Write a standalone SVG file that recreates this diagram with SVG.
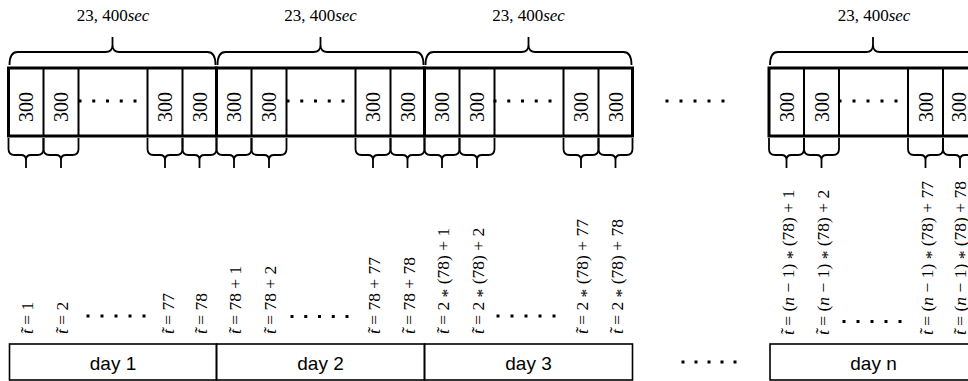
<svg xmlns="http://www.w3.org/2000/svg" xmlns:xlink="http://www.w3.org/1999/xlink" width="968" height="381" viewBox="0 0 968 381">
<style>
.blk{fill:none;stroke:#000;stroke-width:3}
.div{stroke:#000;stroke-width:2}
.br{fill:none;stroke:#000;stroke-width:1.8}
.cell{font-family:"Liberation Serif","Times New Roman",serif;font-size:20px;text-anchor:middle;fill:#000}
.sec{font-family:"Liberation Serif","Times New Roman",serif;font-size:17px;text-anchor:middle;fill:#000}
.lab{font-family:"Liberation Serif","Times New Roman",serif;font-size:17.5px;fill:#000}
.it{font-style:italic}
.ast{baseline-shift:-0.22em}
.day{fill:none;stroke:#000;stroke-width:1.6}
.dayt{font-family:"Liberation Sans",Arial,sans-serif;font-size:19px;text-anchor:middle;fill:#000}
</style>
<defs>
<rect id="dot" x="-1.5" y="-1.5" width="3" height="3" fill="#000"/>
<path id="b35" d="M0 0 V11 C0 15 2 17 6 17 H12.5 C15.5 17 17.5 19 17.5 22 V30 M17.5 22 C17.5 19 19.5 17 22.5 17 H29 C33 17 35 15 35 11 V0"/>
<path id="b34" d="M0 0 V11 C0 15 2 17 6 17 H12 C15 17 17 19 17 22 V30 M17 22 C17 19 19 17 22 17 H28 C32 17 34 15 34 11 V0"/>
</defs>
<rect width="968" height="381" fill="#fff"/>

<!-- blocks -->
<g id="block1">
<rect class="blk" x="8.5" y="68" width="208" height="68"/>
<path class="div" d="M43.5 68V136M78.5 68V136M147.5 68V136M182.5 68V136"/>
<text class="cell" transform="translate(33,107) rotate(-90)">300</text>
<text class="cell" transform="translate(68,107) rotate(-90)">300</text>
<text class="cell" transform="translate(172,107) rotate(-90)">300</text>
<text class="cell" transform="translate(207,107) rotate(-90)">300</text>
<use xlink:href="#dot" x="80" y="101"/><use xlink:href="#dot" x="93.75" y="101"/><use xlink:href="#dot" x="107.5" y="101"/><use xlink:href="#dot" x="121.25" y="101"/><use xlink:href="#dot" x="135" y="101"/>
</g>
<g id="block2">
<rect class="blk" x="216.5" y="68" width="208" height="68"/>
<path class="div" d="M251.5 68V136M286.5 68V136M355.5 68V136M390.5 68V136"/>
<text class="cell" transform="translate(241,107) rotate(-90)">300</text>
<text class="cell" transform="translate(276,107) rotate(-90)">300</text>
<text class="cell" transform="translate(380,107) rotate(-90)">300</text>
<text class="cell" transform="translate(414.5,107) rotate(-90)">300</text>
<use xlink:href="#dot" x="288" y="101"/><use xlink:href="#dot" x="301.75" y="101"/><use xlink:href="#dot" x="315.5" y="101"/><use xlink:href="#dot" x="329.25" y="101"/><use xlink:href="#dot" x="343" y="101"/>
</g>
<g id="block3">
<rect class="blk" x="424.5" y="68" width="208" height="68"/>
<path class="div" d="M459.5 68V136M494.5 68V136M563.5 68V136M598.5 68V136"/>
<text class="cell" transform="translate(449,107) rotate(-90)">300</text>
<text class="cell" transform="translate(484,107) rotate(-90)">300</text>
<text class="cell" transform="translate(588,107) rotate(-90)">300</text>
<text class="cell" transform="translate(622.5,107) rotate(-90)">300</text>
<use xlink:href="#dot" x="495" y="101"/><use xlink:href="#dot" x="508.75" y="101"/><use xlink:href="#dot" x="522.5" y="101"/><use xlink:href="#dot" x="536.25" y="101"/><use xlink:href="#dot" x="550" y="101"/>
</g>
<g id="gapTop">
<use xlink:href="#dot" x="667" y="101"/><use xlink:href="#dot" x="681" y="101"/><use xlink:href="#dot" x="695" y="101"/><use xlink:href="#dot" x="709" y="101"/><use xlink:href="#dot" x="723" y="101"/>
</g>
<g id="block4">
<rect class="blk" x="769" y="68" width="208" height="68"/>
<path class="div" d="M804 68V136M839 68V136M908 68V136M943 68V136"/>
<text class="cell" transform="translate(793.5,107) rotate(-90)">300</text>
<text class="cell" transform="translate(828.5,107) rotate(-90)">300</text>
<text class="cell" transform="translate(932.5,107) rotate(-90)">300</text>
<text class="cell" transform="translate(966,107) rotate(-90)">300</text>
<use xlink:href="#dot" x="840" y="101"/><use xlink:href="#dot" x="854" y="101"/><use xlink:href="#dot" x="868" y="101"/><use xlink:href="#dot" x="882" y="101"/><use xlink:href="#dot" x="896" y="101"/>
</g>

<!-- top labels -->
<g id="secLabels">
<text class="sec" x="113" y="21">23, 400<tspan class="it">sec</tspan></text>
<text class="sec" x="320.5" y="21">23, 400<tspan class="it">sec</tspan></text>
<text class="sec" x="528.5" y="21">23, 400<tspan class="it">sec</tspan></text>
<text class="sec" x="874" y="21">23, 400<tspan class="it">sec</tspan></text>
</g>

<!-- connectors: braces -->
<g id="connectors">
<path class="br" d="M9.5 65 C9.5 57 11.5 52 17.5 52 H105.5 C109.5 52 112.5 50 112.5 45 V37 M112.5 45 C112.5 50 115.5 52 119.5 52 H207.5 C213.5 52 215.5 57 215.5 65"/>
<path class="br" d="M217.5 65 C217.5 57 219.5 52 225.5 52 H313.5 C317.5 52 320.5 50 320.5 45 V37 M320.5 45 C320.5 50 323.5 52 327.5 52 H415.5 C421.5 52 423.5 57 423.5 65"/>
<path class="br" d="M425.5 65 C425.5 57 427.5 52 433.5 52 H521.5 C525.5 52 528.5 50 528.5 45 V37 M528.5 45 C528.5 50 531.5 52 535.5 52 H623.5 C629.5 52 631.5 57 631.5 65"/>
<path class="br" d="M770 65 C770 57 772 52 778 52 H866 C870 52 873 50 873 45 V37 M873 45 C873 50 876 52 880 52 H968 C974 52 976 57 976 65"/>
<use class="br" xlink:href="#b35" x="8.5" y="138"/>
<use class="br" xlink:href="#b35" x="43.5" y="138"/>
<use class="br" xlink:href="#b35" x="147.5" y="138"/>
<use class="br" xlink:href="#b34" x="182.5" y="138"/>
<use class="br" xlink:href="#b35" x="216.5" y="138"/>
<use class="br" xlink:href="#b35" x="251.5" y="138"/>
<use class="br" xlink:href="#b35" x="355.5" y="138"/>
<use class="br" xlink:href="#b34" x="390.5" y="138"/>
<use class="br" xlink:href="#b35" x="424.5" y="138"/>
<use class="br" xlink:href="#b35" x="459.5" y="138"/>
<use class="br" xlink:href="#b35" x="563.5" y="138"/>
<use class="br" xlink:href="#b34" x="598.5" y="138"/>
<use class="br" xlink:href="#b35" x="769" y="138"/>
<use class="br" xlink:href="#b35" x="804" y="138"/>
<use class="br" xlink:href="#b35" x="908" y="138"/>
<use class="br" xlink:href="#b34" x="943" y="138"/>
</g>

<!-- time labels -->
<g id="labels1">
<text class="lab" transform="translate(33,334) rotate(-90)"><tspan class="it">t̃</tspan> = 1</text>
<text class="lab" transform="translate(68,334) rotate(-90)"><tspan class="it">t̃</tspan> = 2</text>
<text class="lab" transform="translate(174,334) rotate(-90)"><tspan class="it">t̃</tspan> = 77</text>
<text class="lab" transform="translate(207,334) rotate(-90)"><tspan class="it">t̃</tspan> = 78</text>
<use xlink:href="#dot" x="88" y="316"/><use xlink:href="#dot" x="102" y="316"/><use xlink:href="#dot" x="116" y="316"/><use xlink:href="#dot" x="130" y="316"/><use xlink:href="#dot" x="144" y="316"/>
</g>
<g id="labels2">
<text class="lab" transform="translate(241,334) rotate(-90)"><tspan class="it">t̃</tspan> = 78 + 1</text>
<text class="lab" transform="translate(276,334) rotate(-90)"><tspan class="it">t̃</tspan> = 78 + 2</text>
<text class="lab" transform="translate(380,334) rotate(-90)"><tspan class="it">t̃</tspan> = 78 + 77</text>
<text class="lab" transform="translate(414.5,334) rotate(-90)"><tspan class="it">t̃</tspan> = 78 + 78</text>
<use xlink:href="#dot" x="292" y="316.5"/><use xlink:href="#dot" x="305.75" y="316.5"/><use xlink:href="#dot" x="319.5" y="316.5"/><use xlink:href="#dot" x="333.25" y="316.5"/><use xlink:href="#dot" x="347" y="316.5"/>
</g>
<g id="labels3">
<text class="lab" transform="translate(449,334) rotate(-90)"><tspan class="it">t̃</tspan> = 2 <tspan class="ast">*</tspan> (78) + 1</text>
<text class="lab" transform="translate(484,334) rotate(-90)"><tspan class="it">t̃</tspan> = 2 <tspan class="ast">*</tspan> (78) + 2</text>
<text class="lab" transform="translate(588,334) rotate(-90)"><tspan class="it">t̃</tspan> = 2 <tspan class="ast">*</tspan> (78) + 77</text>
<text class="lab" transform="translate(622.5,334) rotate(-90)"><tspan class="it">t̃</tspan> = 2 <tspan class="ast">*</tspan> (78) + 78</text>
<use xlink:href="#dot" x="498" y="316"/><use xlink:href="#dot" x="512" y="316"/><use xlink:href="#dot" x="526" y="316"/><use xlink:href="#dot" x="540" y="316"/><use xlink:href="#dot" x="554" y="316"/>
</g>
<g id="labels4">
<text class="lab" transform="translate(793.5,335) rotate(-90)"><tspan class="it">t̃</tspan> = (<tspan class="it">n</tspan> − 1) <tspan class="ast">*</tspan> (78) + 1</text>
<text class="lab" transform="translate(828.5,335) rotate(-90)"><tspan class="it">t̃</tspan> = (<tspan class="it">n</tspan> − 1) <tspan class="ast">*</tspan> (78) + 2</text>
<text class="lab" transform="translate(932.5,335) rotate(-90)"><tspan class="it">t̃</tspan> = (<tspan class="it">n</tspan> − 1) <tspan class="ast">*</tspan> (78) + 77</text>
<text class="lab" transform="translate(966,335) rotate(-90)"><tspan class="it">t̃</tspan> = (<tspan class="it">n</tspan> − 1) <tspan class="ast">*</tspan> (78) + 78</text>
<use xlink:href="#dot" x="844" y="321.5"/><use xlink:href="#dot" x="858" y="321.5"/><use xlink:href="#dot" x="872" y="321.5"/><use xlink:href="#dot" x="886" y="321.5"/><use xlink:href="#dot" x="900" y="321.5"/>
</g>

<!-- days -->
<g id="day1"><rect class="day" x="9.5" y="344" width="207" height="36"/><text class="dayt" x="113" y="370">day 1</text></g>
<g id="day2"><rect class="day" x="216.5" y="344" width="208" height="36"/><text class="dayt" x="320.5" y="370">day 2</text></g>
<g id="day3"><rect class="day" x="424.5" y="344" width="208" height="36"/><text class="dayt" x="528.5" y="370">day 3</text></g>
<g id="gapBottom">
<use xlink:href="#dot" x="683" y="362"/><use xlink:href="#dot" x="696" y="362"/><use xlink:href="#dot" x="709" y="362"/><use xlink:href="#dot" x="722" y="362"/><use xlink:href="#dot" x="735" y="362"/>
</g>
<g id="dayn"><rect class="day" x="770" y="344" width="208" height="36"/><text class="dayt" x="873.5" y="370">day n</text></g>
</svg>
